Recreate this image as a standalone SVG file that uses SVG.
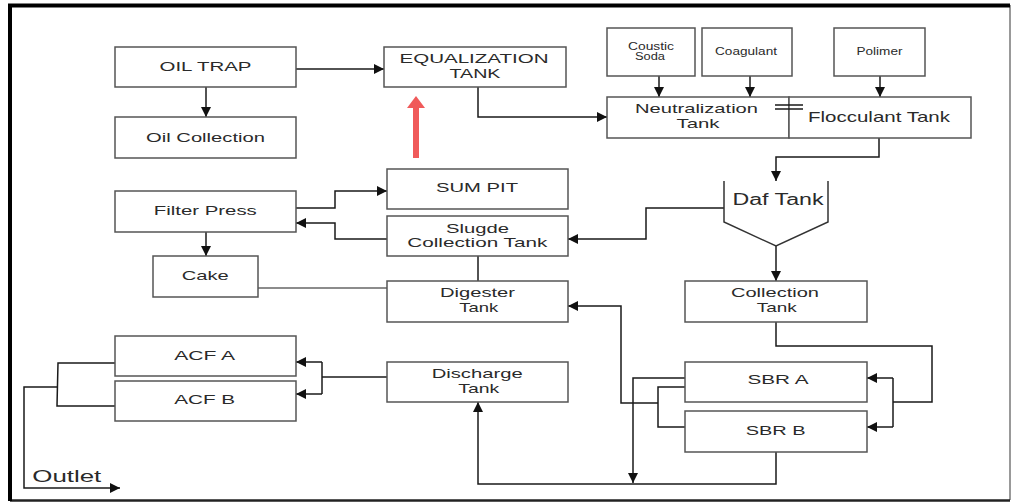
<svg xmlns="http://www.w3.org/2000/svg" width="1012" height="502" viewBox="0 0 1012 502">
<style>
.box{fill:#fff;stroke:#555;stroke-width:1.5}
.t{font-family:"Liberation Sans",Arial,sans-serif;font-size:13.5px;fill:#2a2a2a;text-anchor:middle}
.s{font-size:10px}
.c{fill:none;stroke:#1a1a1a;stroke-width:1.5}
.g{fill:none;stroke:#666;stroke-width:1.3}
</style>
<defs>
<marker id="ah" viewBox="0 0 10 10" refX="10" refY="5" markerWidth="11" markerHeight="10" markerUnits="userSpaceOnUse" orient="auto"><path d="M0,0 L10,5 L0,10 z" fill="#111"/></marker>
</defs>
<rect x="0" y="0" width="1012" height="502" fill="#fff"/>
<g id="frame">
<line x1="1010" y1="5" x2="1010" y2="500" stroke="#777" stroke-width="1.5"/>
<line x1="10" y1="500.5" x2="1010" y2="500.5" stroke="#222" stroke-width="2.5"/>
<line x1="8" y1="5.5" x2="1010" y2="5.5" stroke="#000" stroke-width="4"/>
<line x1="10" y1="4" x2="10" y2="501" stroke="#000" stroke-width="4"/>
</g>
<g id="connectors">
<path class="c" d="M296,69 H384" marker-end="url(#ah)"/>
<path class="c" d="M206,87 V117" marker-end="url(#ah)"/>
<path class="c" d="M478,87 V117 H607" marker-end="url(#ah)"/>
<path class="c" d="M659,76 V97" marker-end="url(#ah)"/>
<path class="c" d="M750,76 V97" marker-end="url(#ah)"/>
<path class="c" d="M880,76 V97" marker-end="url(#ah)"/>
<path class="c" d="M879,138 V157 H776 V181" marker-end="url(#ah)"/>
<path class="c" d="M776,246 V281" marker-end="url(#ah)"/>
<path class="c" d="M724,208 H646 V239 H568" marker-end="url(#ah)"/>
<path class="c" d="M296,208 H335 V191 H387" marker-end="url(#ah)"/>
<path class="c" d="M387,239 H335 V223 H296" marker-end="url(#ah)"/>
<path class="c" d="M206,232 V256" marker-end="url(#ah)"/>
<path class="c" d="M478,256 V281"/>
<path class="g" d="M258,288 H387"/>
<path class="c" d="M776,322 V346 H932 V402 H893"/>
<path class="c" d="M893,378 V427"/>
<path class="c" d="M893,378 H867" marker-end="url(#ah)"/>
<path class="c" d="M893,427 H867" marker-end="url(#ah)"/>
<path class="c" d="M686,378 H633 V483" marker-end="url(#ah)"/>
<path class="c" d="M686,387 H658 V427 H686"/>
<path class="c" d="M658,403 H621 V306 H568" marker-end="url(#ah)"/>
<path class="c" d="M776,452 V484 H478 V402" marker-end="url(#ah)"/>
<path class="c" d="M387,377 H322"/>
<path class="c" d="M322,362 V394"/>
<path class="c" d="M322,362 H296" marker-end="url(#ah)"/>
<path class="c" d="M322,394 H296" marker-end="url(#ah)"/>
<path class="c" d="M115,363 H58 L57,406 H115"/>
<path class="c" d="M58,387 H24 V488 H120" marker-end="url(#ah)"/>
</g>
<g id="red-arrow">
<line x1="416" y1="158" x2="416" y2="106" stroke="#f05a5a" stroke-width="6"/>
<polygon points="407,108 425,108 416,96" fill="#f05a5a"/>
</g>
<g id="oil-trap"><rect class="box" x="115" y="47" width="181" height="40"/><text class="t" x="205.5" y="71" textLength="92" lengthAdjust="spacingAndGlyphs">OIL TRAP</text></g>
<g id="oil-collection"><rect class="box" x="115" y="117" width="181" height="41"/><text class="t" x="205.5" y="141.7" textLength="119" lengthAdjust="spacingAndGlyphs">Oil Collection</text></g>
<g id="equalization-tank"><rect class="box" x="384" y="47" width="182" height="40"/><text class="t" x="474" y="63.3" textLength="149" lengthAdjust="spacingAndGlyphs">EQUALIZATION</text><text class="t" x="475" y="78.3" textLength="51" lengthAdjust="spacingAndGlyphs">TANK</text></g>
<g id="coustic-soda"><rect class="box" x="607" y="28" width="88" height="48"/><text class="t s" x="651" y="50" textLength="46" lengthAdjust="spacingAndGlyphs">Coustic</text><text class="t s" x="650" y="60" textLength="30" lengthAdjust="spacingAndGlyphs">Soda</text></g>
<g id="coagulant"><rect class="box" x="702" y="28" width="90" height="48"/><text class="t s" x="746" y="55" textLength="62" lengthAdjust="spacingAndGlyphs">Coagulant</text></g>
<g id="polimer"><rect class="box" x="834" y="28" width="91" height="48"/><text class="t s" x="879.5" y="55" textLength="46" lengthAdjust="spacingAndGlyphs">Polimer</text></g>
<g id="neutralization-tank"><rect class="box" x="607" y="97" width="182" height="41"/><text class="t" x="696.5" y="113.3" textLength="123" lengthAdjust="spacingAndGlyphs">Neutralization</text><text class="t" x="698" y="128.3" textLength="43" lengthAdjust="spacingAndGlyphs">Tank</text></g>
<g id="flocculant-tank"><rect class="box" x="789" y="97" width="182" height="41"/><text class="t" style="font-size:15px" x="879" y="121.7" textLength="142" lengthAdjust="spacingAndGlyphs">Flocculant Tank</text></g>
<g id="break-mark"><path class="c" d="M775,105 H803 M775,109 H803"/></g>
<g id="daf-tank"><path d="M724,181 V222 L776,246 L828,222 V181" fill="none" stroke="#333" stroke-width="1.5"/><text class="t" style="font-size:16px" x="778" y="205" textLength="91" lengthAdjust="spacingAndGlyphs">Daf Tank</text></g>
<g id="collection-tank"><rect class="box" x="685" y="281" width="182" height="41"/><text class="t" x="775" y="297.3" textLength="88" lengthAdjust="spacingAndGlyphs">Collection</text><text class="t" x="776.7" y="311.7" textLength="40" lengthAdjust="spacingAndGlyphs">Tank</text></g>
<g id="sum-pit"><rect class="box" x="387" y="169" width="181" height="40"/><text class="t" x="477" y="192.3" textLength="82" lengthAdjust="spacingAndGlyphs">SUM PIT</text></g>
<g id="sludge-collection-tank"><rect class="box" x="387" y="216" width="181" height="40"/><text class="t" x="477.5" y="232.7" textLength="63" lengthAdjust="spacingAndGlyphs">Slugde</text><text class="t" x="477.3" y="247.3" textLength="140" lengthAdjust="spacingAndGlyphs">Collection Tank</text></g>
<g id="digester-tank"><rect class="box" x="387" y="281" width="181" height="41"/><text class="t" x="477.5" y="297.3" textLength="75" lengthAdjust="spacingAndGlyphs">Digester</text><text class="t" x="478.7" y="311.7" textLength="39" lengthAdjust="spacingAndGlyphs">Tank</text></g>
<g id="filter-press"><rect class="box" x="115" y="191" width="181" height="41"/><text class="t" x="205.3" y="215" textLength="103" lengthAdjust="spacingAndGlyphs">Filter Press</text></g>
<g id="cake"><rect class="box" x="153" y="256" width="105" height="41"/><text class="t" x="205.3" y="280" textLength="47" lengthAdjust="spacingAndGlyphs">Cake</text></g>
<g id="discharge-tank"><rect class="box" x="387" y="362" width="181" height="40"/><text class="t" x="477.2" y="378.3" textLength="91" lengthAdjust="spacingAndGlyphs">Discharge</text><text class="t" x="478.8" y="393.3" textLength="41" lengthAdjust="spacingAndGlyphs">Tank</text></g>
<g id="acf-a"><rect class="box" x="115" y="336" width="181" height="40"/><text class="t" x="204.7" y="360" textLength="61" lengthAdjust="spacingAndGlyphs">ACF A</text></g>
<g id="acf-b"><rect class="box" x="115" y="381" width="181" height="40"/><text class="t" x="204.7" y="404.3" textLength="61" lengthAdjust="spacingAndGlyphs">ACF B</text></g>
<g id="sbr-a"><rect class="box" x="685" y="362" width="182" height="40"/><text class="t" x="778" y="384" textLength="61" lengthAdjust="spacingAndGlyphs">SBR A</text></g>
<g id="sbr-b"><rect class="box" x="685" y="411" width="182" height="41"/><text class="t" x="775.7" y="435" textLength="60" lengthAdjust="spacingAndGlyphs">SBR B</text></g>
<g id="outlet"><text class="t" style="font-size:16px;text-anchor:start" x="32.3" y="481.7" textLength="69" lengthAdjust="spacingAndGlyphs">Outlet</text></g>
</svg>
